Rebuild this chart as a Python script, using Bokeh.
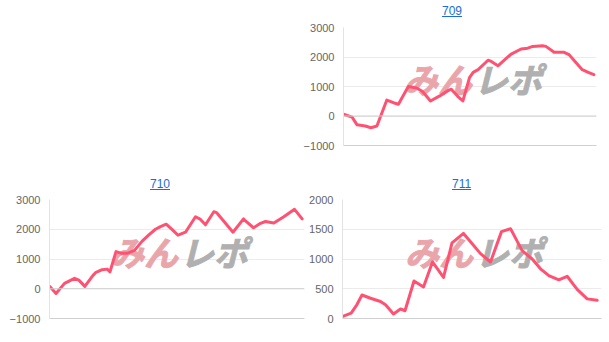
from bokeh.plotting import figure
from bokeh.models import Range1d, FixedTicker, Span, Label, Div, Spacer
from bokeh.layouts import column, row
from bokeh.embed import file_html
from bokeh.resources import INLINE

# ---- data (games played vs. coin difference) ----
titles = ["709", "710", "711"]

g709 = [0, 260, 410, 660, 830, 1010, 1310, 1510, 1660, 1960, 2210, 2390,
        2630, 2910, 3160, 3260, 3460, 3610, 3810, 3920, 4070, 4370, 4470, 4670,
        4870, 5070, 5370, 5570, 5720, 6020, 6120, 6370, 6670, 6820, 7020, 7220,
        7400, 7570]
d709 = [60, -40, -300, -340, -400, -340, 540, 450, 400, 1000, 950, 830,
        510, 680, 860, 910, 660, 510, 1300, 1480, 1570, 1890, 1850, 1700,
        1900, 2100, 2270, 2300, 2360, 2380, 2360, 2160, 2160, 2080, 1820, 1570,
        1480, 1400]

g710 = [15, 195, 450, 750, 880, 1060, 1305, 1380, 1580, 1730, 1815, 1995,
        2160, 2330, 2550, 2780, 2980, 3180, 3330, 3500, 3690, 3855, 4080, 4380,
        4530, 4680, 4930, 5010, 5505, 5820, 5880, 6120, 6330, 6480, 6730, 7030,
        7350, 7580]
d710 = [70, -160, 180, 350, 290, 80, 450, 540, 640, 660, 570, 1250,
        1190, 1190, 1290, 1600, 1810, 2000, 2090, 2170, 1980, 1800, 1900, 2420,
        2330, 2150, 2590, 2560, 1900, 2350, 2280, 2050, 2200, 2260, 2210, 2420,
        2670, 2350]

g711 = [30, 260, 430, 585, 840, 1140, 1290, 1530, 1740, 1875, 2145, 2430,
        2700, 3030, 3285, 3630, 3840, 4140, 4440, 4770, 5040, 5390, 5690, 5940,
        6190, 6490, 6740, 7040, 7340, 7640]
d711 = [40, 90, 230, 395, 340, 285, 230, 75, 160, 130, 630, 530,
        950, 690, 1270, 1430, 1290, 1090, 950, 1460, 1510, 1140, 1000, 835,
        720, 650, 710, 490, 330, 305]

ticks_a = [-1000, 0, 1000, 2000, 3000]
ticks_b = [0, 500, 1000, 1500, 2000]

LINE = "#ff5273"
FONT = "Liberation Sans"
JP = "Noto Sans CJK JP"


def make_panel(xs, ys, xmax, ymin, ymax, yticks, width, height, bl, br, bt, bb):
    p = figure(width=width, height=height,
               x_range=Range1d(0, xmax), y_range=Range1d(ymin, ymax),
               toolbar_location=None, output_backend="svg",
               min_border_left=bl, min_border_right=br,
               min_border_top=bt, min_border_bottom=bb)
    p.outline_line_color = None
    p.background_fill_color = "white"
    p.border_fill_color = "white"
    p.xgrid.visible = False
    p.ygrid.ticker = FixedTicker(ticks=yticks)
    p.ygrid.grid_line_color = "#ebebeb"
    p.ygrid.grid_line_width = 1

    ya = p.yaxis[0]
    ya.ticker = FixedTicker(ticks=yticks)
    ya.axis_line_color = "#e3e3e3"
    ya.major_tick_line_color = None
    ya.minor_tick_line_color = None
    ya.major_tick_out = 0
    ya.major_tick_in = 0
    ya.major_label_standoff = 9
    ya.major_label_text_font = FONT
    ya.major_label_text_font_size = "11px"
    ya.major_label_text_color = "#666666"

    xa = p.xaxis[0]
    xa.ticker = FixedTicker(ticks=[])
    xa.axis_line_color = "#d0d0d0"
    xa.major_tick_line_color = None
    xa.minor_tick_line_color = None
    xa.major_tick_out = 0
    xa.major_label_text_font_size = "0px"
    xa.major_label_standoff = 0

    p.add_layout(Span(location=0, dimension="width", line_color="#cfcfcf", line_width=1))

    fw = width - bl - br
    fh = height - bt - bb
    wm1 = Label(x=fw / 2 + 1, y=fh / 2 + 8, x_units="screen", y_units="screen",
                text="みん", text_align="right", text_baseline="middle",
                text_font=JP, text_font_size="34px", text_font_style="bold italic",
                text_color="#eaa5ab", text_outline_color="#eaa5ab", level="underlay")
    wm2 = Label(x=fw / 2 + 3, y=fh / 2 + 8, x_units="screen", y_units="screen",
                text="レポ", text_align="left", text_baseline="middle",
                text_font=JP, text_font_size="34px", text_font_style="bold italic",
                text_color="#b0b0b0", text_outline_color="#b0b0b0", level="underlay")
    p.add_layout(wm1)
    p.add_layout(wm2)

    p.line(xs, ys, line_color=LINE, line_width=3, line_join="round", line_cap="round")
    return p


def title_div(text, left, top, width, height):
    html = ('<div style="padding-left:%dpx;padding-top:%dpx;font-family:\'Liberation Sans\',Arial,sans-serif;'
            'font-size:12px;line-height:14px;white-space:nowrap;">'
            '<span style="color:#1a6ed8;text-decoration:underline;">%s</span></div>' % (left, top, text))
    return Div(text=html, width=width, height=height, margin=(0, 0, 0, 0))


p1 = make_panel(g709, d709, 7650, -1000, 3000, ticks_a, 309, 145, 41, 13, 7, 20)
p2 = make_panel(g710, d710, 7650, -1000, 3000, ticks_a, 305, 151, 49, 1, 8, 24)
p3 = make_panel(g711, d711, 7770, 0, 2000, ticks_b, 304, 151, 37, 8, 8, 24)

t1 = title_div(titles[0], 142, 4, 309, 20)
t2 = title_div(titles[1], 150, 12, 305, 26)
t3 = title_div(titles[2], 147, 12, 304, 26)

layout = column(
    row(Spacer(width=300, height=165), column(t1, p1, spacing=0), spacing=0),
    row(column(t2, p2, spacing=0), column(t3, p3, spacing=0), spacing=0),
    spacing=0,
)

open("out.html", "w").write(file_html(layout, INLINE))
